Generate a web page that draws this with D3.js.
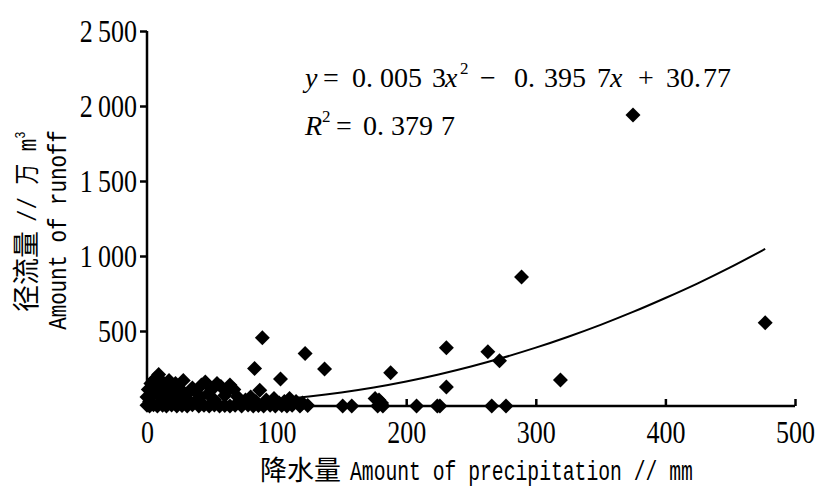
<!DOCTYPE html>
<html>
<head>
<meta charset="utf-8">
<script src="https://cdn.jsdelivr.net/npm/d3@7"></script>
<style>
  body { margin: 0; background: #fff; }
  svg { display: block; }
</style>
</head>
<body>
<svg id="chart" width="817" height="489"></svg>
<script>
// precipitation (mm) vs runoff (10^4 m3)
const precip = [
  0, 2, 5, 8, 12, 15, 19, 23, 27, 31, 35, 40, 44, 48, 52, 56, 60, 64, 68, 73,
  78, 82, 86, 90, 95, 99, 104, 108, 112, 118, 124, 151, 158, 178, 182, 208, 224, 226, 266, 277,
  0, 1, 2, 3, 5, 6, 8, 9, 10, 12, 14, 15, 17, 18, 20, 22, 24, 26, 28, 30,
  33, 35, 38, 40, 42, 45, 47, 50, 52, 54, 57, 60, 62, 64, 67, 70, 72, 76, 80, 84,
  87, 92, 98, 102, 106, 110, 115, 120, 176, 179, 181,
  83, 89, 103, 122, 137, 188, 231, 231, 263, 272, 289, 319, 375, 477
];
const runoff = [
  5, 0, 8, 0, 5, 0, 6, 0, 4, 0, 8, 0, 5, 0, 6, 0, 4, 0, 5, 0,
  6, 0, 4, 0, 5, 0, 4, 0, 5, 0, 4, 0, 0, 0, 0, 0, 0, 0, 0, 0,
  60, 110, 30, 150, 90, 180, 130, 210, 60, 160, 100, 40, 170, 130, 80, 150, 50, 110, 170, 70,
  30, 120, 90, 50, 140, 160, 80, 110, 40, 150, 130, 70, 100, 140, 110, 60, 30, 40, 60, 30,
  105, 40, 50, 20, 30, 50, 30, 20, 50, 40, 20,
  250, 455, 180, 350, 247, 221, 388, 127, 361, 301, 860, 174, 1940, 555
];

// fitted curve
const fitX = [0, 25, 50, 75, 100, 125, 150, 175, 200, 225, 250, 275, 300, 325, 350, 375, 400, 425, 450, 477];
const fitY = [31, 24, 24, 31, 44, 64, 90, 123, 163, 210, 263, 323, 389, 462, 541, 627, 720, 818, 924, 1047];

const xTicks = [0, 100, 200, 300, 400, 500];
const yTicks = [500, 1000, 1500, 2000, 2500];

const svg = d3.select('#chart');

const x = d3.scaleLinear().domain([0, 500]).range([147, 795]);
const y = d3.scaleLinear().domain([0, 2500]).range([406, 31]);

const fmt = v => v >= 1000 ? d3.format(',')(v).replace(',', '\u2009') : String(v);

// points
const pts = precip.map((p, i) => ({ x: p, y: runoff[i] }));
const diamond = d3.symbol().type(d3.symbolSquare).size(112);
svg.append('g')
  .selectAll('path')
  .data(pts)
  .join('path')
  .attr('d', diamond)
  .attr('transform', d => `translate(${x(d.x)},${y(d.y)}) rotate(45)`)
  .attr('fill', '#000');

// trend curve
const fit = fitX.map((v, i) => ({ x: v, y: fitY[i] }));
svg.append('path')
  .datum(fit)
  .attr('d', d3.line().x(d => x(d.x)).y(d => y(d.y)).curve(d3.curveMonotoneX))
  .attr('fill', 'none')
  .attr('stroke', '#000')
  .attr('stroke-width', 2);

// y axis
const yAxis = svg.append('g')
  .attr('transform', `translate(${x(0)},0)`)
  .call(d3.axisLeft(y).tickValues(yTicks).tickSize(7).tickSizeOuter(0).tickFormat(fmt));
yAxis.select('.domain').attr('stroke-width', 2.5).attr('d', `M0,${y(2500)}V${y(0)}`);
yAxis.selectAll('.tick line').attr('stroke-width', 2.5);
yAxis.selectAll('.tick text')
  .attr('font-family', 'Liberation Serif')
  .attr('font-size', 31)
  .attr('fill', '#000')
  .attr('x', 0)
  .attr('dy', '0.34em')
  .attr('text-anchor', 'end')
  .attr('transform', 'translate(-10,0) scale(0.84,1)');

// x axis
const xAxis = svg.append('g')
  .attr('transform', `translate(0,${y(0)})`)
  .call(d3.axisBottom(x).tickValues(xTicks).tickSize(-7).tickSizeOuter(0).tickFormat(fmt));
xAxis.select('.domain').attr('stroke-width', 2.5).attr('d', `M${x(0)},0H${x(500)}`);
xAxis.selectAll('.tick line').attr('stroke-width', 2.5);
xAxis.selectAll('.tick line').filter(d => d === 0).remove();
xAxis.selectAll('.tick text')
  .attr('font-family', 'Liberation Serif')
  .attr('font-size', 31)
  .attr('fill', '#000')
  .attr('y', 0)
  .attr('dy', 0)
  .attr('transform', 'translate(0,37) scale(0.84,1)');

// axis titles
const cjk = 'Noto Sans CJK SC';
const mono = 'Liberation Mono';

svg.append('text')
  .attr('x', 260).attr('y', 480)
  .attr('font-family', cjk)
  .attr('font-size', 27)
  .attr('fill', '#000')
  .text('降水量');
svg.append('text')
  .attr('transform', 'translate(350,480) scale(0.73,1)')
  .attr('font-family', mono)
  .attr('font-size', 27)
  .attr('fill', '#000')
  .text('Amount of precipitation // mm');

// y title, line 1
const yt1 = svg.append('g').attr('transform', 'translate(36,0) rotate(-90)');
yt1.append('text')
  .attr('x', -312).attr('y', 0)
  .attr('font-family', cjk)
  .attr('font-size', 27)
  .attr('fill', '#000')
  .text('径流量');
const yt1b = yt1.append('text')
  .attr('transform', 'translate(-222,0) scale(0.8,1)')
  .attr('font-family', mono)
  .attr('font-size', 26)
  .attr('fill', '#000');
yt1b.append('tspan').text('// ');
yt1b.append('tspan').attr('font-family', cjk).text('万');
yt1b.append('tspan').text(' m');
yt1b.append('tspan').attr('font-size', 15).attr('dy', -11).text('3');

// y title, line 2
svg.append('text')
  .attr('transform', 'translate(66,230) rotate(-90) scale(0.8,1)')
  .attr('text-anchor', 'middle')
  .attr('font-family', mono)
  .attr('font-size', 26)
  .attr('fill', '#000')
  .text('Amount of runoff');

// equation
const eqParts = [
  { t: 'y', x: 305, it: true },
  { t: '=', x: 323 },
  { t: '0.', x: 352 },
  { t: '005', x: 380 },
  { t: '3', x: 432 },
  { t: 'x', x: 445, it: true },
  { t: '\u2212', x: 480 },
  { t: '0.', x: 514 },
  { t: '395', x: 544 },
  { t: '7', x: 597 },
  { t: 'x', x: 610, it: true },
  { t: '+', x: 638 },
  { t: '30.', x: 666 },
  { t: '77', x: 703 }
];
const eq = svg.append('text')
  .attr('font-family', 'Liberation Serif')
  .attr('font-size', 28)
  .attr('fill', '#000');
eqParts.forEach(p => {
  eq.append('tspan')
    .attr('x', p.x).attr('y', 87)
    .attr('font-style', p.it ? 'italic' : 'normal')
    .text(p.t);
});
eq.append('tspan').attr('x', 460).attr('y', 74).attr('font-size', 17).text('2');

const r2Parts = [
  { t: 'R', x: 305, it: true },
  { t: '=', x: 336 },
  { t: '0.', x: 363 },
  { t: '379', x: 391 },
  { t: '7', x: 441 }
];
const r2 = svg.append('text')
  .attr('font-family', 'Liberation Serif')
  .attr('font-size', 28)
  .attr('fill', '#000');
r2Parts.forEach(p => {
  r2.append('tspan')
    .attr('x', p.x).attr('y', 135)
    .attr('font-style', p.it ? 'italic' : 'normal')
    .text(p.t);
});
r2.append('tspan').attr('x', 322).attr('y', 122).attr('font-size', 17).text('2');
</script>
</body>
</html>
